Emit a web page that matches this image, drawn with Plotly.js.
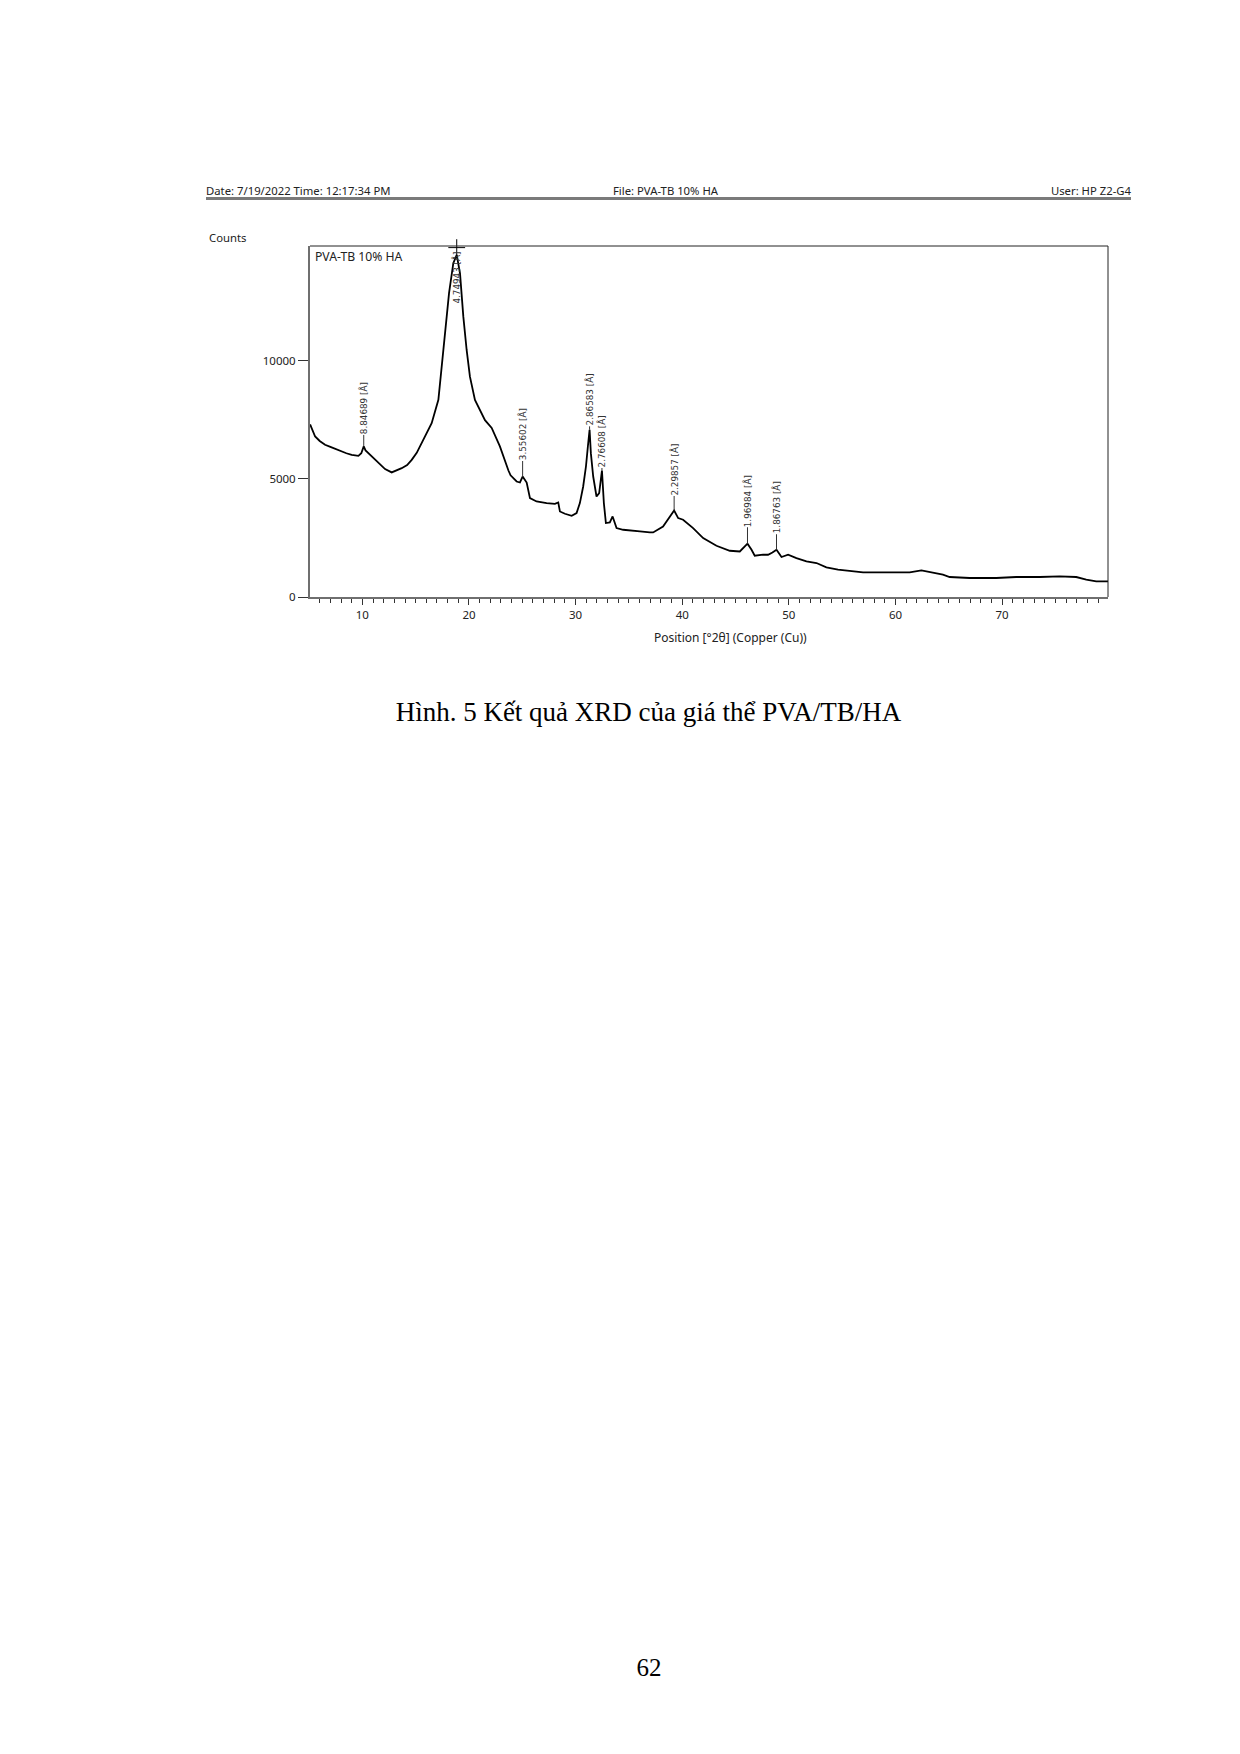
<!DOCTYPE html>
<html>
<head>
<meta charset="utf-8">
<script src="https://cdn.plot.ly/plotly-3.0.1.min.js"></script>
<style>
  html, body { margin:0; padding:0; background:#fff; }
  #page { position:relative; width:1240px; height:1754px; overflow:hidden; }
  #chart { position:absolute; left:0; top:0; width:1240px; height:1754px; }
  .hdr { position:absolute; font-family:"Noto Sans", "Open Sans", sans-serif; font-size:11.3px; line-height:11px; color:#222; white-space:nowrap; }
  .serif { position:absolute; font-family:"Liberation Serif", "Times New Roman", serif; color:#000; white-space:nowrap; }
</style>
</head>
<body>
<div id="page">
  <div id="chart"></div>
  <div class="hdr" style="left:206px; top:185px;">Date: 7/19/2022 Time: 12:17:34 PM</div>
  <div class="hdr" style="left:613px; top:185px;">File: PVA-TB 10% HA</div>
  <div class="hdr" style="right:109px; top:185px;">User: HP Z2-G4</div>
  <div style="position:absolute; left:206px; top:197px; width:925px; height:2.5px; background:#7a7a7a;"></div>
  <div class="serif" style="left:0; width:1297px; text-align:center; top:696px; font-size:27px; line-height:32px;">Hình. 5 Kết quả XRD của giá thể PVA/TB/HA</div>
  <div class="serif" style="left:0; width:1298px; text-align:center; top:1653px; font-size:25px; line-height:30px;">62</div>
</div>
<script>
// ---- data ----
const twoTheta = [5.10, 5.35, 5.57, 6.0, 6.5, 7.0, 7.75, 8.5, 9.0, 9.63, 9.9, 10.13, 10.3, 10.56, 11.19, 11.7,
  12.13, 12.75, 13.2, 13.69, 14.2, 14.63, 15.1, 15.57, 16.0, 16.5, 17.13, 17.44, 17.75, 18.13, 18.53, 18.85,
  19.16, 19.47, 19.78, 20.09, 20.56, 21.03, 21.5, 22.13, 22.9, 23.7, 23.9, 24.47, 24.78, 25.03, 25.41, 25.72,
  26.34, 27.28, 28.06, 28.37, 28.53, 29.0, 29.63, 30.09, 30.4, 30.71, 30.97, 31.15, 31.31, 31.43, 31.65, 31.96,
  32.21, 32.47, 32.65, 32.84, 33.21, 33.47, 33.84, 34.46, 35.4, 36.03, 36.96, 37.27, 38.2, 38.84, 39.24, 39.62,
  40.08, 41.02, 41.96, 43.21, 44.46, 45.4, 45.87, 46.12, 46.5, 46.8, 47.58, 48.05, 48.46, 48.84, 49.31, 49.93,
  50.71, 51.65, 52.59, 53.52, 54.61, 55.4, 56.96, 58.52, 60.08, 61.33, 62.43, 63.52, 64.45, 65.08, 66.95, 69.45,
  71.33, 73.51, 75.39, 76.95, 77.89, 78.83, 79.93];
const counts = [7300, 7000, 6790, 6600, 6440, 6350, 6200, 6080, 6010, 5970, 6080, 6370, 6200, 6090, 5800, 5600,
  5410, 5270, 5350, 5450, 5580, 5800, 6100, 6510, 6900, 7350, 8340, 9750, 11300, 12850, 14120, 14470,
  13690, 11860, 10450, 9320, 8340, 7916, 7480, 7150, 6370, 5350, 5150, 4886, 4844, 5097, 4844, 4184,
  4041, 3973, 3943, 4000, 3618, 3521, 3436, 3550, 3973, 4675, 5520, 6365, 7071, 6086, 5097, 4252,
  4396, 5351, 3973, 3128, 3153, 3407, 2916, 2845, 2815, 2773, 2730, 2730, 2984, 3407, 3660, 3339,
  3267, 2916, 2494, 2168, 1957, 1927, 2113, 2253, 1999, 1746, 1788, 1788, 1885, 1999, 1691, 1788,
  1648, 1505, 1437, 1251, 1154, 1124, 1040, 1040, 1040, 1040, 1124, 1040, 943, 845, 803, 803,
  845, 845, 871, 845, 731, 659, 659];

// peak labels (d-spacing) at their 2θ positions and counts
const peakPos    = [10.13, 25.03, 31.31, 32.47, 39.24, 46.12, 48.84];
const peakCounts = [6370, 5097, 7071, 5351, 3660, 2253, 1999];
const peakText   = ["8.84689 [Å]", "3.55602 [Å]", "2.86583 [Å]", "2.76608 [Å]", "2.29857 [Å]", "1.96984 [Å]", "1.86763 [Å]"];
const mainPeakPos = 18.85, mainPeakCounts = 14470, mainPeakText = "4.74943 [Å]";

const xTickVals = [10, 20, 30, 40, 50, 60, 70];
const yTickVals = [0, 5000, 10000];
const sampleName = "PVA-TB 10% HA";
const xTitle = "Position [°2θ] (Copper (Cu))";
const yTitle = "Counts";

// ---- layout geometry (page pixels) ----
const L = 310, R = 1108.3, T = 246, B = 597.3;
const W = 1240, H = 1754;
const px = v => (v - L) / (R - L);
const py = v => (B - v) / (B - T);

const font = "Noto Sans, Open Sans, sans-serif";
const lblFont = {family: "DejaVu Sans, sans-serif", size: 8.8, color: "#333"};
const stems = [-38, -42, -30, -29, -41, -43, -42];

const annotations = peakPos.map((p, i) => ({
  x: p, y: peakCounts[i], xref: "x", yref: "y",
  text: peakText[i], textangle: -90, font: lblFont,
  showarrow: true, arrowhead: 0, arrowwidth: 1, arrowcolor: "#333",
  ax: 0, ay: stems[i], standoff: 0, borderpad: 0
}));
annotations.push({
  x: mainPeakPos, y: 13500, xref: "x", yref: "y",
  text: mainPeakText, textangle: -90, font: lblFont, showarrow: false
});
annotations.push({
  x: px(207), y: py(237), xref: "paper", yref: "paper", xanchor: "left", yanchor: "middle",
  text: yTitle, showarrow: false, font: {family: font, size: 11.3, color: "#222"}
});
annotations.push({
  x: px(313), y: py(256.5), xref: "paper", yref: "paper", xanchor: "left", yanchor: "middle",
  text: sampleName, showarrow: false, font: {family: font, size: 12.2, color: "#222"}
});
annotations.push({
  x: px(731), y: py(638), xref: "paper", yref: "paper", xanchor: "center", yanchor: "middle",
  text: xTitle, showarrow: false, font: {family: font, size: 12, color: "#222"}
});

const traces = [
  {x: twoTheta, y: counts, type: "scatter", mode: "lines",
   line: {color: "#000", width: 1.8}, hoverinfo: "skip"},
  {x: [mainPeakPos], y: [14780], type: "scatter", mode: "markers",
   marker: {symbol: "cross-thin", size: 12, line: {color: "#000", width: 1}}, hoverinfo: "skip", cliponaxis: false}
];

const layout = {
  width: W, height: H,
  margin: {l: L, r: W - R, t: T, b: H - B, pad: 0},
  paper_bgcolor: "rgba(0,0,0,0)", plot_bgcolor: "#fff",
  showlegend: false,
  font: {family: font, size: 11.5, color: "#222"},
  xaxis: {
    range: [5.09, 79.93], tickvals: xTickVals, ticks: "outside", ticklen: 6, tickwidth: 1, tickcolor: "#333",
    minor: {dtick: 1, tick0: 0, ticks: "outside", ticklen: 4, tickwidth: 1, tickcolor: "#333", showgrid: false},
    showgrid: false, zeroline: false, showline: true, linecolor: "#6f6f6f", linewidth: 2,
    tickfont: {family: font, size: 11.5, color: "#222"}
  },
  yaxis: {
    range: [0, 14848], tickvals: yTickVals, ticktext: ["0", "5000", "10000"],
    ticks: "outside", ticklen: 10, tickwidth: 1, tickcolor: "#333",
    showgrid: false, zeroline: false, showline: true, linecolor: "#6f6f6f", linewidth: 2,
    tickfont: {family: font, size: 11.5, color: "#222"}
  },
  shapes: [
    {type: "line", xref: "paper", yref: "paper", x0: 0, x1: 1, y0: 1, y1: 1, line: {color: "#222", width: 1}},
    {type: "line", xref: "paper", yref: "paper", x0: 1, x1: 1, y0: 0, y1: 1, line: {color: "#222", width: 1}}
  ],
  annotations: annotations
};

Plotly.newPlot("chart", traces, layout, {staticPlot: true, displayModeBar: false});
</script>
</body>
</html>
